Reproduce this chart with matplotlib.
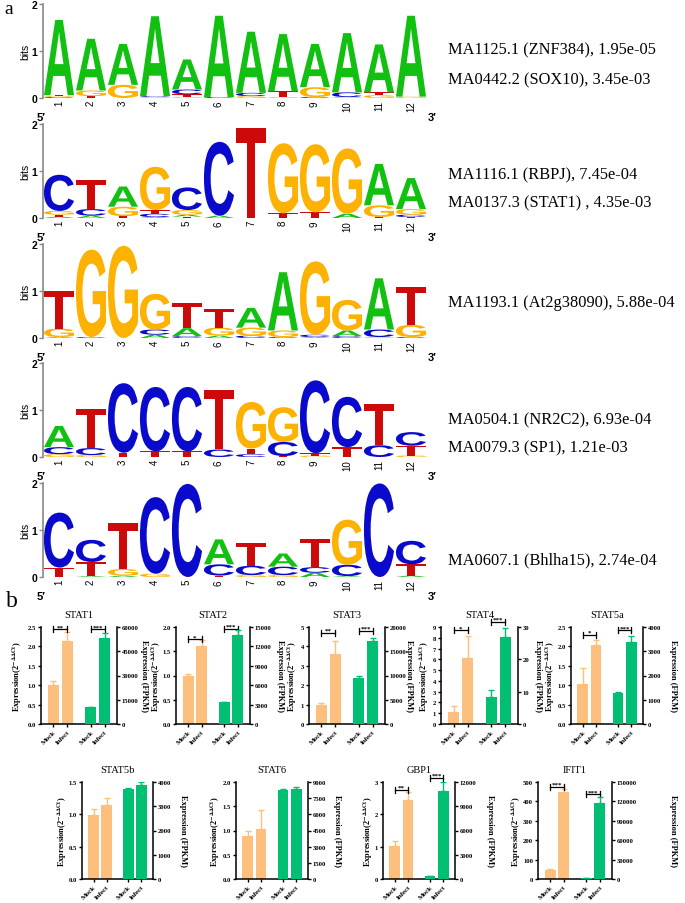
import numpy as np
import matplotlib
matplotlib.use("Agg")
import matplotlib.pyplot as plt
from matplotlib.textpath import TextPath
from matplotlib.patches import PathPatch
from matplotlib.font_manager import FontProperties
from matplotlib.transforms import Affine2D

plt.rcParams['mathtext.fontset'] = 'stix'
plt.rcParams['font.family'] = ['Liberation Serif', 'DejaVu Serif']

W, H = 685, 904

# ---- panel a: motif logos, each column stacked bottom -> top (letter, bits)
znf384 = [
    [("C", .02), ("G", .02), ("T", .02), ("A", 1.6)],
    [("T", .04), ("G", .12), ("A", 1.1)],
    [("G", .28), ("A", .87)],
    [("G", .02), ("C", .02), ("A", 1.7)],
    [("G", .02), ("T", .06), ("C", .1), ("A", .64)],
    [("C", .02), ("A", 1.73)],
    [("G", .04), ("C", .07), ("A", 1.3)],
    [("G", .02), ("T", .12), ("A", 1.22)],
    [("C", .02), ("G", .21), ("A", .92)],
    [("G", .02), ("C", .1), ("A", 1.26)],
    [("G", .06), ("T", .06), ("A", 1.02)],
    [("G", .03), ("A", 1.72)],
]
rbpj = [
    [("A", .03), ("T", .04), ("G", .08), ("C", .77)],
    [("A", .05), ("C", .14), ("T", .62)],
    [("T", .04), ("G", .2), ("A", .43)],
    [("A", .02), ("C", .07), ("T", .08), ("G", .92)],
    [("T", .03), ("A", .04), ("G", .1), ("C", .48)],
    [("A", .05), ("C", 1.57)],
    [("T", 1.91)],
    [("T", .1), ("G", 1.49)],
    [("T", .12), ("G", 1.45)],
    [("A", .09), ("G", 1.39)],
    [("T", .02), ("G", .25), ("A", .88)],
    [("T", .02), ("C", .05), ("G", .12), ("A", .66)],
]
at2g38090 = [
    [("A", .02), ("G", .18), ("T", .79)],
    [("C", .02), ("G", 1.86)],
    [("G", 1.96)],
    [("A", .07), ("C", .11), ("G", .76)],
    [("C", .04), ("A", .17), ("T", .54)],
    [("A", .05), ("G", .17), ("T", .39)],
    [("C", .05), ("G", .17), ("A", .42)],
    [("C", .02), ("G", .14), ("A", 1.24)],
    [("A", .02), ("C", .05), ("G", 1.56)],
    [("C", .04), ("A", .12), ("G", .65)],
    [("G", .02), ("C", .16), ("A", 1.09)],
    [("C", .02), ("G", .26), ("T", .8)],
]
nr2c2 = [
    [("G", .06), ("C", .15), ("A", .45)],
    [("G", .04), ("C", .15), ("T", .84)],
    [("T", .09), ("C", 1.48)],
    [("T", .12), ("C", 1.37)],
    [("T", .12), ("C", 1.37)],
    [("C", .16), ("T", 1.27)],
    [("C", .06), ("T", .12), ("G", .99)],
    [("T", .02), ("C", .3), ("G", .74)],
    [("G", .03), ("T", .05), ("C", 1.55)],
    [("T", .21), ("C", 1.07)],
    [("C", .25), ("T", .87)],
    [("G", .03), ("T", .21), ("C", .29)],
]
bhlha15 = [
    [("T", .2), ("C", 1.17)],
    [("A", .02), ("T", .3), ("C", .47)],
    [("A", .03), ("G", .14), ("T", .97)],
    [("G", .07), ("C", 1.63)],
    [("C", 1.98)],
    [("T", .03), ("C", .24), ("A", .53)],
    [("G", .04), ("C", .2), ("T", .48)],
    [("G", .04), ("C", .18), ("A", .28)],
    [("A", .09), ("C", .12), ("T", .6)],
    [("A", .02), ("C", .24), ("G", .96)],
    [("C", 1.99)],
    [("A", .03), ("T", .24), ("C", .5)],
]
motifs = [znf384, rbpj, at2g38090, nr2c2, bhlha15]
motif_labels = [
    ["MA1125.1 (ZNF384), 1.95e-05", "MA0442.2 (SOX10), 3.45e-03"],
    ["MA1116.1 (RBPJ), 7.45e-04", "MA0137.3 (STAT1) , 4.35e-03"],
    ["MA1193.1 (At2g38090), 5.88e-04"],
    ["MA0504.1 (NR2C2), 6.93e-04", "MA0079.3 (SP1), 1.21e-03"],
    ["MA0607.1 (Bhlha15), 2.74e-04"],
]
label_y = [[50, 80], [175, 203], [303], [420, 448], [560]]

letter_colors = {"A": "#12C012", "C": "#0A0ACC", "G": "#FDB100", "T": "#CC0A0A"}
logo_font = FontProperties(family="Liberation Sans", weight="bold")

# ---- panel b: qPCR (orange, left axis) and FPKM (green, right axis)
genes = ["STAT1", "STAT2", "STAT3", "STAT4", "STAT5a", "STAT5b", "STAT6", "GBP1", "IFIT1"]
qpcr_mean = [[1.0, 2.13], [0.99, 1.6], [1.0, 3.6], [1.1, 6.1], [1.04, 2.04],
             [0.99, 1.15], [0.88, 1.04], [1.02, 2.45], [48, 450]]
qpcr_err = [[0.11, 0.23], [0.05, 0.13], [0.1, 0.7], [0.6, 2.1], [0.4, 0.12],
            [0.09, 0.1], [0.12, 0.39], [0.17, 0.24], [5, 12]]
fpkm_mean = [[10500, 53200], [3340, 13700], [9400, 17200], [8.5, 27], [1290, 3400],
             [3730, 3860], [8230, 8320], [330, 10900], [1500, 117000]]
fpkm_err = [[300, 3300], [110, 900], [500, 600], [2.0, 2.8], [30, 230],
            [30, 120], [150, 210], [20, 1100], [500, 10500]]
left_max = [2.5, 2.0, 5, 9, 2.5, 1.5, 2.0, 3, 500]
left_step = [0.5, 0.5, 1, 1, 0.5, 0.5, 0.5, 1, 100]
right_max = [60000, 15000, 20000, 30, 4000, 4000, 9000, 12000, 150000]
right_step = [15000, 3000, 5000, 10, 1000, 1000, 1500, 3000, 30000]
# significance marks: (stars, height in left-axis units) for qPCR pair, FPKM pair
signif = {
    "STAT1": [("**", 2.44), ("***", 2.44)],
    "STAT2": [("*", 1.75), ("***", 1.96)],
    "STAT3": [("**", 4.7), ("***", 4.8)],
    "STAT4": [("*", 8.7), ("***", 9.5)],
    "STAT5a": [("*", 2.3), ("***", 2.42)],
    "GBP1": [("**", 2.75), ("***", 3.13)],
    "IFIT1": [("***", 476), ("***", 437)],
}
orange = "#FDBF7D"
green = "#00BF72"

fig = plt.figure(figsize=(W / 100, H / 100), dpi=100)


def px_axes(left, top, right, bottom):
    return fig.add_axes([left / W, 1 - bottom / H, (right - left) / W, (bottom - top) / H])


def draw_logo(ax, columns):
    for i, col in enumerate(columns):
        y0 = 0
        for ch, h in col:
            tp = TextPath((0, 0), ch, size=1, prop=logo_font)
            bb = tp.get_extents()
            tr = (Affine2D().translate(-bb.x0, -bb.y0)
                  .scale(0.94 / bb.width, h / bb.height)
                  .translate(i + 1 - 0.47, y0))
            ax.add_patch(PathPatch(tr.transform_path(tp), fc=letter_colors[ch], lw=0))
            y0 += h
    ax.set_xlim(0.5, 12.5)
    ax.set_ylim(0, 2)
    for s in ["top", "right", "bottom"]:
        ax.spines[s].set_visible(False)
    ax.spines["left"].set_color("#888888")
    ax.spines["left"].set_linewidth(1.2)
    ax.set_yticks([0, 1, 2])
    ax.set_yticklabels(["0", "1", "2"], family="Liberation Sans", weight="bold", fontsize=7.5)
    ax.tick_params(axis="y", length=3, width=1, color="#888888", pad=1)
    ax.set_xticks(range(1, 13))
    ax.set_xticklabels([str(i) for i in range(1, 13)], rotation=90,
                       family="Liberation Sans", fontsize=7)
    ax.tick_params(axis="x", length=0, pad=1.5)
    ax.set_ylabel("bits", family="Liberation Sans", fontsize=7.5, labelpad=1)


logo_tops = [5, 125, 245, 364, 484]
for k, cols in enumerate(motifs):
    t = logo_tops[k]
    ax = px_axes(43, t, 427, t + 94)
    draw_logo(ax, cols)
    fig.text(37 / W, 1 - (t + 113) / H, "5\u2032", family="Liberation Sans", weight="bold",
             fontsize=8, va="center")
    fig.text(428 / W, 1 - (t + 113) / H, "3\u2032", family="Liberation Sans", weight="bold",
             fontsize=8, va="center")
    for lab, y in zip(motif_labels[k], label_y[k]):
        fig.text(448 / W, 1 - y / H, lab, fontsize=11.8, va="center")

fig.text(4 / W, 1 - 10 / H, "a", fontsize=14, va="center")
fig.text(6 / W, 1 - 602 / H, "b", fontsize=17, va="center")

bar_boxes = [(41, 628, 117, 725), (176, 628, 250, 725), (309, 628, 385, 725),
             (441, 628, 518, 725), (571, 628, 643, 725),
             (82, 783, 153, 880), (236, 783, 308, 880), (383, 783, 455, 880),
             (538, 783, 612, 880)]
# x pixel centre of left / right axis titles
left_title_x = [17, 156, 292, 424, 550, 62, 215, 368, 516]
right_title_x = [144, 280, 409, 538, 673, 183, 337, 490, 673]
xpos = np.array([0, 1, 2.7, 3.7])
bw = 0.82


def fmt(v, step):
    return f"{v:.1f}" if step < 1 else f"{int(round(v))}"


def bracket(ax, x0, x1, y, stars, span):
    d = span * 0.03
    kw = dict(color="black", lw=0.9, clip_on=False)
    ax.plot([x0, x1], [y, y], **kw)
    ax.plot([x0, x0], [y - d, y + d], **kw)
    ax.plot([x1, x1], [y - d, y + d], **kw)
    ax.text((x0 + x1) / 2, y, stars, ha="center", va="bottom", fontsize=5,
            weight="bold", clip_on=False)


for k, g in enumerate(genes):
    box = bar_boxes[k]
    ax = px_axes(*box)
    ax2 = ax.twinx()
    ax.bar(xpos[:2], qpcr_mean[k], bw, color=orange,
           yerr=[[0, 0], qpcr_err[k]],
           error_kw=dict(ecolor=orange, capsize=2.3, elinewidth=1, capthick=1))
    ax2.bar(xpos[2:], fpkm_mean[k], bw, color=green,
            yerr=[[0, 0], fpkm_err[k]],
            error_kw=dict(ecolor=green, capsize=2.3, elinewidth=1, capthick=1))
    ax.set_xlim(-0.9, 4.6)
    ax.set_ylim(0, left_max[k])
    ax2.set_ylim(0, right_max[k])
    lt = np.arange(0, left_max[k] + left_step[k] / 2, left_step[k])
    rt = np.arange(0, right_max[k] + right_step[k] / 2, right_step[k])
    ax.set_yticks(lt)
    ax.set_yticklabels([fmt(v, left_step[k]) for v in lt], fontsize=4.8, weight="bold")
    ax2.set_yticks(rt)
    ax2.set_yticklabels([fmt(v, right_step[k]) for v in rt], fontsize=4.8, weight="bold")
    ax.set_xticks(xpos)
    ax.set_xticklabels(["Mock", "Infect", "Mock", "Infect"], rotation=45, ha="right",
                       rotation_mode="anchor", fontsize=5, weight="bold")
    for a in (ax, ax2):
        a.spines["top"].set_visible(False)
        for s in a.spines.values():
            s.set_linewidth(1.1)
        a.tick_params(length=2.5, width=1, pad=1)
    ax.spines["right"].set_visible(False)
    ax2.spines["left"].set_visible(False)
    ax2.spines["bottom"].set_visible(False)
    bwid = box[2] - box[0]
    ax.set_ylabel(r"Expression(2$^{\mathbf{-\Delta\Delta Ct}}$)", fontsize=6,
                  weight="bold", va="center")
    ax.yaxis.set_label_coords((left_title_x[k] - box[0]) / bwid, 0.5)
    ax2.set_ylabel("Expression (FPKM)", fontsize=6, weight="bold", rotation=270,
                   va="center")
    ax2.yaxis.set_label_coords((right_title_x[k] - box[0]) / bwid, 0.5)
    ax.set_title(g, fontsize=7.5, pad=7)
    if g in signif:
        (s1, y1), (s2, y2) = signif[g]
        bracket(ax, xpos[0], xpos[1], y1, s1, left_max[k])
        bracket(ax, xpos[2], xpos[3], y2, s2, left_max[k])

fig.savefig("out.png", dpi=100)
